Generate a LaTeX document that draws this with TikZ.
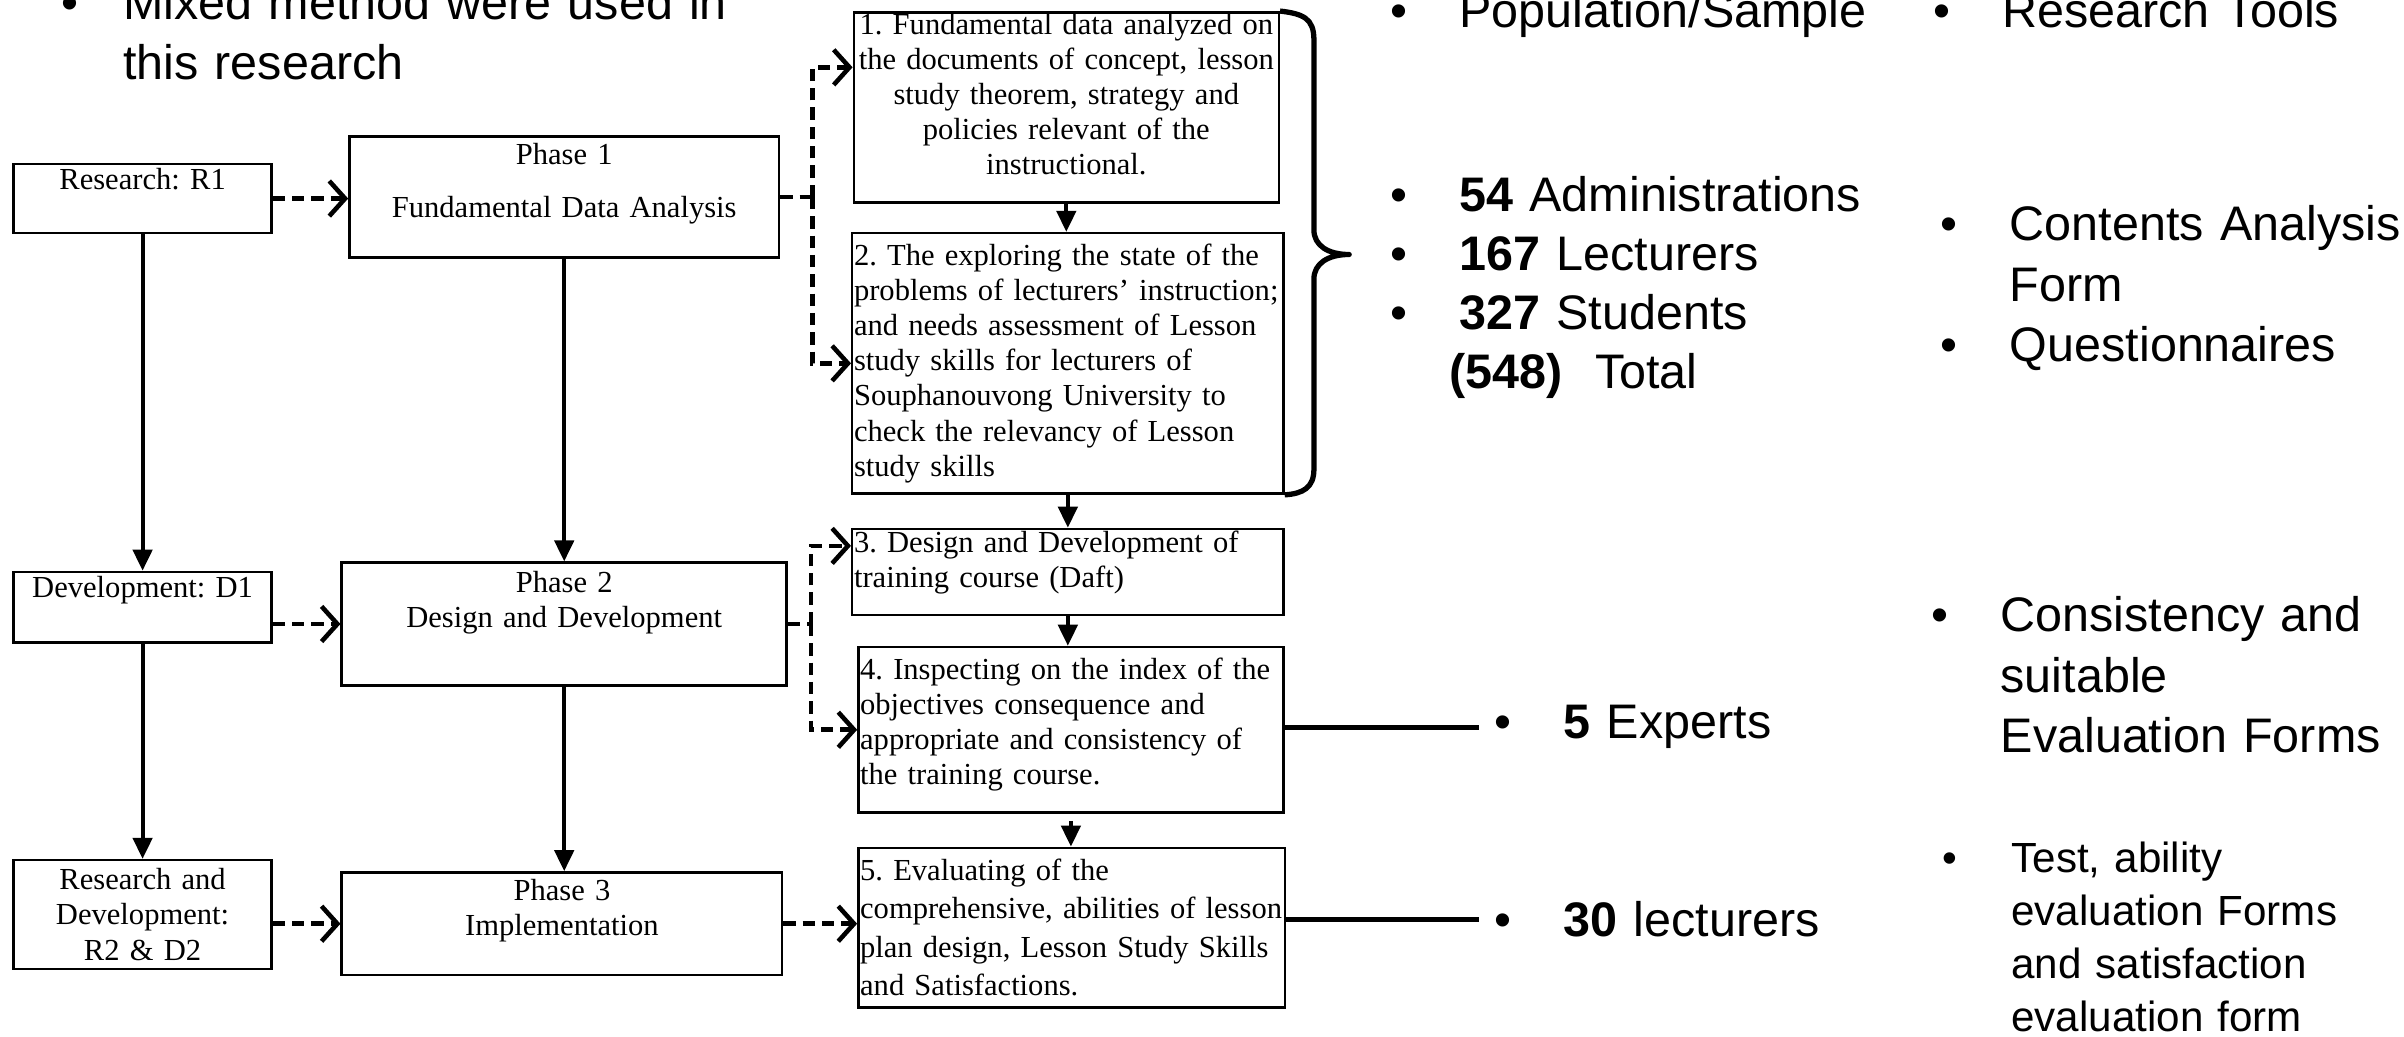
\documentclass[tikz,border=0pt]{standalone}
\usepackage{fontspec}
\setmainfont{Liberation Serif}
\newfontfamily\sansf{Liberation Sans}
\usetikzlibrary{arrows.meta,positioning}
\frenchspacing
\tikzset{x=0.015332cm, y=-0.015332cm,
  box/.style={draw, line width=0.7pt, inner xsep=0.5pt, inner ysep=0pt, font=\fontsize{8.7}{10}\selectfont},
  sz/.style 2 args={text width=#1, minimum height=#2},
  txt/.style={font=\sansf\fontsize{13.8}{17.2}\selectfont, text width=8cm, align=left, inner sep=0pt, anchor=base west},
  darrow/.style={line width=1.3pt, dash pattern=on 3.5pt off 2pt, -{Straight Barb[length=4.5pt,width=10pt]}},
  dline/.style={line width=1.3pt, dash pattern=on 3.5pt off 2pt},
  sarrow/.style={line width=1.1pt, -{Triangle[length=6pt,width=5.5pt]}},
  thickline/.style={line width=1.5pt},
  bracel/.style={line width=1.5pt, line join=round}}
\newcommand{\bul}[1][0.69cm]{\makebox[#1][l]{\textbullet}}
\newcommand{\ind}[1][0.69cm]{\hspace*{#1}}
\newcommand{\padb}[1]{\\[#1]\mbox{}}

\begin{document}
\begin{tikzpicture}
\useasboundingbox (0,0) rectangle (1568,676);
\node[box, sz={2.545cm}{0.690cm}, align=center] (r1) at (93,129.5) {Research: R1\padb{1pt}};
\node[box, sz={2.545cm}{0.705cm}, align=center] (d1) at (93,396) {Development: D1\padb{1.5pt}};
\node[box, sz={2.545cm}{1.089cm}, align=center] (rd) at (93,596.5) {Research and\\Development:\\R2 \& D2};
\node[box, sz={4.262cm}{1.211cm}, align=center] (p1) at (368,128.5) {Phase 1\\[5.2pt]Fundamental Data Analysis\padb{-0.5pt}};
\node[box, sz={4.416cm}{1.227cm}, align=center] (p2) at (368,407) {Phase 2\\Design and Development\padb{4pt}};
\node[box, sz={4.370cm}{1.027cm}, align=center] (p3) at (366.5,602.5) {Phase 3\\Implementation\padb{-0.5pt}};
\node[box, sz={4.216cm}{1.901cm}, align=center] (b1) at (695.5,70) {1. Fundamental data analyzed on\\the documents of concept, lesson\\study theorem, strategy and\\policies relevant of the\\instructional.\padb{-2.3pt}};
\node[box, sz={4.278cm}{2.606cm}, align=left] (b2) at (696.5,237) {2. The exploring the state of the\\problems of lecturers’ instruction;\\and needs assessment of Lesson\\study skills for lecturers of\\Souphanouvong University to\\check the relevancy of Lesson\\study skills};
\node[box, sz={4.278cm}{0.859cm}, align=left] (b3) at (696.5,373) {3. Design and Development of\\training course (Daft)\padb{-2.7pt}};
\node[box, sz={4.216cm}{1.656cm}, align=left] (b4) at (698.5,476) {4. Inspecting on the index of the\\objectives consequence and\\appropriate and consistency of\\the training course.\padb{-5pt}};
\node[box, sz={4.232cm}{1.595cm}, align=left, font=\fontsize{8.7}{10.9}\selectfont] (b5) at (699,605) {5. Evaluating of the\\comprehensive, abilities of lesson\\plan design, Lesson Study Skills\\and Satisfactions.};

\node[txt, font=\sansf\fontsize{13.8}{17}\selectfont] (mix) at (39.5,13) {\bul[0.62cm]Mixed method were used in\\\ind[0.62cm]this research};
\node[txt] (pop) at (906.5,18) {\bul Population/Sample};
\node[txt] (tools) at (1260.5,18) {\bul Research Tools};
\node[txt, font=\sansf\fontsize{13.8}{16.8}\selectfont] (samp) at (906.5,138) {\bul\textbf{54} Administrations\\\bul\textbf{167} Lecturers\\\bul\textbf{327} Students\\\hspace*{0.59cm}\textbf{(548)}\ \ Total};
\node[txt] (cont) at (1265.5,157) {\bul Contents Analysis\\\ind Form\\\bul Questionnaires};
\node[txt] (cons) at (1259.5,412) {\bul Consistency and\\\ind suitable\\\ind Evaluation Forms};
\node[txt, font=\sansf\fontsize{12}{15.1}\selectfont] (test) at (1266.5,569) {\bul Test, ability\\\ind evaluation Forms\\\ind and satisfaction\\\ind evaluation form};
\node[txt] (ex) at (974.5,482) {\bul\textbf{5} Experts};
\node[txt] (lec) at (974.5,611) {\bul\textbf{30} lecturers};

\draw[darrow] (r1.east) -- (r1.east -| p1.west);
\draw[darrow] (p2.west -| d1.east) -- (p2.west);
\draw[darrow] (p3.west -| rd.east) -- (p3.west);
\draw[darrow] (p3.east) -- (p3.east -| b5.west);
\draw[sarrow] (r1) -- (d1);
\draw[sarrow] (d1) -- (rd);
\draw[sarrow] (p1) -- (p2);
\draw[sarrow] (p2.south) -- (p2.south |- p3.north);
\draw[dline] (p1.east) -- ++(21,0) coordinate (f1);
\draw[darrow] (f1) |- ([yshift=0.4cm]b1.west);
\draw[darrow] (f1) |- (b2.west);
\draw[dline] (p2.east) -- ++(15,0) coordinate (f2);
\draw[darrow] (f2) |- ([yshift=0.26cm]b3.west);
\draw[darrow] (f2) |- (b4.west);
\draw[sarrow] (b1.south) -- (b1.south |- b2.north);
\draw[sarrow] (b2.south) -- (b2.south |- b3.north);
\draw[sarrow] (b3.south) -- (b3.south |- b4.north);
\draw[sarrow] ([yshift=-2pt]b4.south) -- (b4.south |- b5.north);
\draw[bracel] (b1.north east) .. controls (850,9) and (857,12) .. (857,26) -- (857,150) .. controls (857,160) and (866,166) .. (880,166) .. controls (866,166) and (857,172) .. (857,182) -- (857,306) .. controls (857,318) and (850,322) .. (b2.south east);
\draw[thickline] (b4.east |- ex.west) -- ([xshift=-0.15cm]ex.west);
\draw[thickline] (b5.east |- lec.west) -- ([xshift=-0.15cm]lec.west);
\end{tikzpicture}
\end{document}
